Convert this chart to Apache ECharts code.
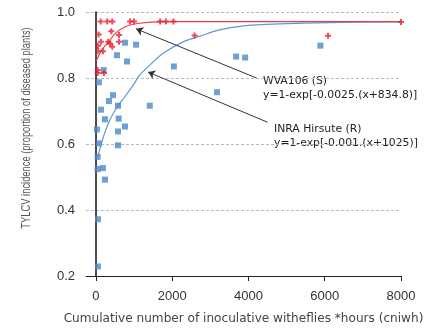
<!DOCTYPE html>
<html lang="en">
<head>
    <meta charset="utf-8">
    <script src="https://cdn.jsdelivr.net/npm/echarts@6.0.0/dist/echarts.min.js"></script>
    <style>
        html, body { margin:0; padding:0; background:#fff; }
        #main { width:432px; height:330px; }
    </style>
</head>
<body>
<div id="main"></div>
<script type="text/javascript">
    // WVA106 (S) observations [cniwh, incidence]
    var wvaPoints = [
        [124,0.971],[297,0.971],[429,0.971],[895,0.971],[1000,0.971],
        [1684,0.971],[1834,0.971],[2034,0.971],[8000,0.970],
        [71,0.932],[403,0.942],[605,0.930],[132,0.910],[324,0.910],
        [376,0.904],[605,0.910],[53,0.898],[429,0.895],[61,0.881],
        [184,0.881],[45,0.824],[45,0.815],[211,0.815],[2587,0.929],[6087,0.928]
    ];
    // INRA Hirsute (R) observations
    var inraPoints = [
        [763,0.907],[1053,0.901],[553,0.869],[816,0.850],[203,0.824],
        [79,0.787],[2045,0.835],[3676,0.865],[3913,0.862],[3176,0.757],
        [447,0.748],[342,0.730],[132,0.704],[579,0.716],[1413,0.716],
        [237,0.675],[597,0.677],[763,0.653],[26,0.644],[579,0.638],
        [79,0.602],[579,0.596],[45,0.561],[45,0.524],[184,0.527],
        [237,0.492],[53,0.372],[53,0.229],[5887,0.898]
    ];
    // fitted curves
    var wvaCurve = [
        [8,0.852],[166,0.887],[342,0.911],[518,0.936],[782,0.956],
        [1132,0.966],[1737,0.971],[2700,0.971],[8000,0.971]
    ];
    var inraCurve = [
        [45,0.561],[229,0.633],[387,0.678],[561,0.713],[782,0.747],
        [1000,0.782],[1132,0.807],[1439,0.842],[1789,0.877],[2316,0.911],
        [2711,0.926],[3237,0.946],[3939,0.959],[4816,0.964],[6132,0.968],[8000,0.970]
    ];
    var xTicks = [0, 2000, 4000, 6000, 8000];
    // arrows from the labels to the curves
    var wvaArrow = [[4211,0.800],[1053,0.949]];
    var inraArrow = [[4500,0.666],[1368,0.818]];

    var myChart = echarts.init(document.getElementById('main'));
    var txt = '#333';
    var noteFont = 'DejaVu Sans';
    myChart.setOption({
        animation:false,
        textStyle:{ fontFamily:'Liberation Sans' },
        grid:{ left:86, right:31, top:12, bottom:50 },
        xAxis:{
            type:'value',
            min:-260,
            max:8000,
            axisLine:{ lineStyle:{ color:'#222', width:1 } },
            axisTick:{ customValues:xTicks, length:5, lineStyle:{ color:'#222' } },
            axisLabel:{ customValues:xTicks, color:txt, fontSize:13, margin:14, formatter:function (v) { return String(v); } },
            splitLine:{ show:false },
            name:'Cumulative number of inoculative witheflies *hours (cniwh)',
            nameLocation:'middle',
            nameGap:37,
            nameTextStyle:{ color:'#444', fontSize:12.1, fontFamily:'DejaVu Sans' }
        },
        yAxis:{
            type:'value',
            min:0.2,
            max:1.0,
            interval:0.2,
            axisLine:{ show:true, lineStyle:{ color:'#111', width:1.5 } },
            axisTick:{ show:false },
            axisLabel:{ color:txt, fontSize:13, margin:11, formatter:function (v) { return v.toFixed(1); } },
            splitLine:{ lineStyle:{ color:'#bbb', type:[3,2] } }
        },
        graphic:[
            { type:'text', x:27, y:128, rotation:Math.PI/2, scaleX:0.78,
              style:{ text:'TYLCV incidence (proportion of diseased plants)', fill:'#555', fontSize:12, fontFamily:'Liberation Sans', align:'center', verticalAlign:'middle' } },
            { type:'text', left:263, top:76, style:{ text:'WVA106 (S)', fill:'#222', fontSize:10.8, fontFamily:noteFont } },
            { type:'text', left:263, top:90, style:{ text:'y=1-exp[-0.0025.(x+834.8)]', fill:'#222', fontSize:10.8, fontFamily:noteFont } },
            { type:'text', left:274, top:124, style:{ text:'INRA Hirsute (R)', fill:'#222', fontSize:10.8, fontFamily:noteFont } },
            { type:'text', left:274, top:138, style:{ text:'y=1-exp[-0.001.(x+1025)]', fill:'#222', fontSize:10.8, fontFamily:noteFont } }
        ],
        series:[
            {
                name:'INRA fit', type:'line', data:inraCurve, smooth:0.3, symbol:'none', silent:true,
                lineStyle:{ color:'#5b9bd5', width:1.2 }, z:2
            },
            {
                name:'WVA fit', type:'line', data:wvaCurve, smooth:0.3, symbol:'none', silent:true,
                lineStyle:{ color:'#ee3a44', width:1.2 }, z:3,
                markLine:{
                    silent:true, symbol:['none','arrow'], symbolSize:7,
                    label:{ show:false },
                    lineStyle:{ color:'#333', width:1, type:'solid' },
                    data:[
                        [ { coord:wvaArrow[0] }, { coord:wvaArrow[1] } ],
                        [ { coord:inraArrow[0] }, { coord:inraArrow[1] } ]
                    ]
                }
            },
            {
                name:'INRA Hirsute (R)', type:'scatter', data:inraPoints, symbol:'rect', symbolSize:6,
                itemStyle:{ color:'#4a88c7' }, z:4
            },
            {
                name:'WVA106 (S)', type:'scatter', data:wvaPoints,
                symbol:'path://M2,0H4V2H6V4H4V6H2V4H0V2H2Z', symbolSize:6,
                itemStyle:{ color:'#e8212b' }, z:5
            }
        ]
    });
</script>
</body>
</html>
